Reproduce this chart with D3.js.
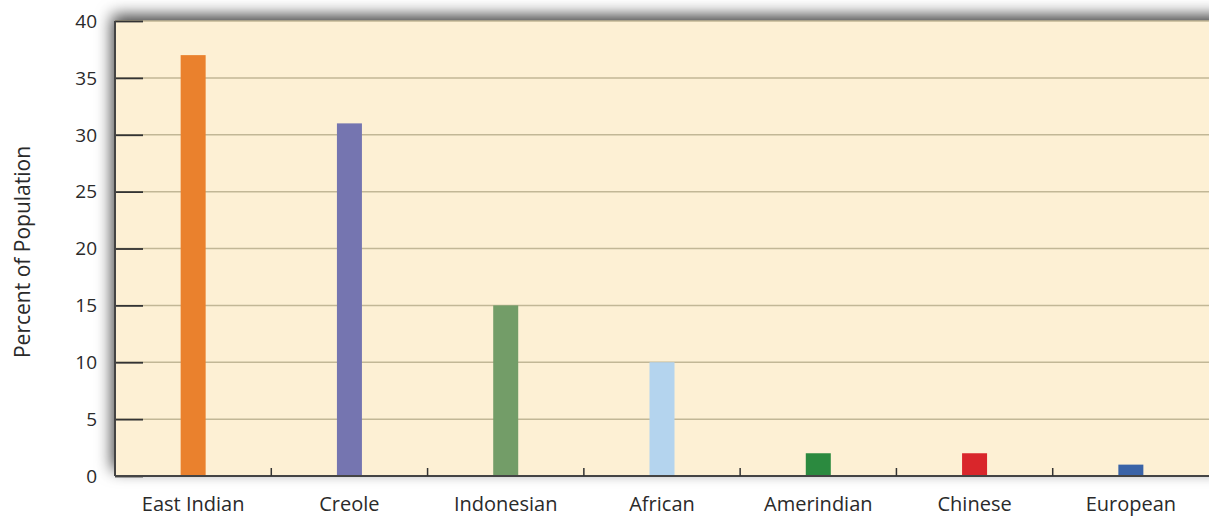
<!DOCTYPE html>
<html><head><meta charset="utf-8">
<script src="https://cdn.jsdelivr.net/npm/d3@7"></script>
<style>body{margin:0;background:#fff;}svg{display:block;}</style>
</head><body>
<svg id="chart" width="1209" height="518"></svg>
<script>
const categories = ["East Indian","Creole","Indonesian","African","Amerindian","Chinese","European"];
const values = [37,31,15,10,2,2,1];
const colors = ["#ea812d","#7575b0","#739d68","#b4d4ee","#2b8a3f","#d9262b","#3a63a7"];
const yTicks = [0,5,10,15,20,25,30,35,40];

const svg = d3.select("#chart");
const m = {left:115, top:21, right:0, bottom:42};
const W = 1209, H = 518;
const x = d3.scaleBand().domain(categories).range([m.left, W - m.right]).paddingInner(0).paddingOuter(0);
const y = d3.scaleLinear().domain([0,40]).range([H - m.bottom, m.top]);

const defs = svg.append("defs");
const f = defs.append("filter").attr("id","sh").attr("x","-10%").attr("y","-20%").attr("width","120%").attr("height","140%");
f.append("feDropShadow").attr("dx",-3).attr("dy",-6).attr("stdDeviation",8).attr("flood-color","#000").attr("flood-opacity",0.75);

svg.append("rect").attr("x",m.left).attr("y",m.top).attr("width",W - m.left + 20).attr("height",y(0)-m.top)
  .attr("fill","#fdf0d4").attr("filter","url(#sh)");

// gridlines
svg.append("g").selectAll("line").data(yTicks.filter(d=>d>0)).join("line")
  .attr("x1",m.left).attr("x2",W).attr("y1",d=>y(d)).attr("y2",d=>y(d))
  .attr("stroke","#c2b796").attr("stroke-width",1.5);

// bars
svg.append("g").selectAll("rect").data(categories).join("rect")
  .attr("x",(d)=>x(d)+x.bandwidth()/2-12.5).attr("width",25)
  .attr("y",(d,i)=>y(values[i])).attr("height",(d,i)=>y(0)-y(values[i]))
  .attr("fill",(d,i)=>colors[i]);

// y axis
const ya = svg.append("g").attr("transform",`translate(${m.left},0)`)
  .call(d3.axisRight(y).tickValues(yTicks).tickSize(28).tickFormat(""));
ya.select(".domain").remove();
ya.selectAll(".tick line").attr("stroke","#333").attr("stroke-width",1.8);
svg.append("g").selectAll("text").data(yTicks).join("text")
  .attr("x",97).attr("y",d=>y(d)).attr("dy","0.36em").attr("text-anchor","end")
  .attr("font-family","Open Sans, sans-serif").attr("font-size",19).attr("fill","#2a2a2a")
  .text(d=>d);
svg.append("line").attr("x1",m.left).attr("x2",m.left).attr("y1",m.top).attr("y2",y(0))
  .attr("stroke","#444").attr("stroke-width",2);

// x axis
svg.append("line").attr("x1",m.left).attr("x2",W).attr("y1",y(0)).attr("y2",y(0))
  .attr("stroke","#444").attr("stroke-width",2);
svg.append("g").selectAll("line").data(categories.slice(1)).join("line")
  .attr("x1",d=>x(d)).attr("x2",d=>x(d)).attr("y1",y(0)).attr("y2",y(0)-8)
  .attr("stroke","#333").attr("stroke-width",1.5);
svg.append("g").selectAll("text").data(categories).join("text")
  .attr("x",d=>x(d)+x.bandwidth()/2).attr("y",511).attr("text-anchor","middle")
  .attr("font-family","Open Sans, sans-serif").attr("font-size",20).attr("fill","#2a2a2a")
  .text(d=>d);

svg.append("text").attr("transform","translate(30,252) rotate(-90)").attr("text-anchor","middle")
  .attr("font-family","Open Sans, sans-serif").attr("font-size",21).attr("fill","#2a2a2a")
  .text("Percent of Population");
</script>
</body></html>
